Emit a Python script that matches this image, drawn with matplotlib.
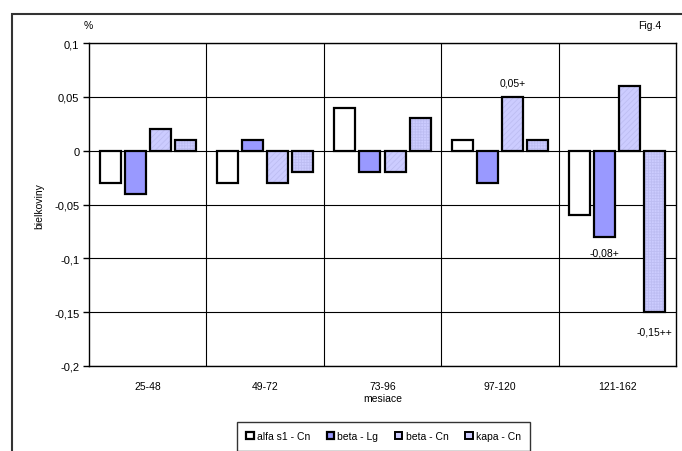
import numpy as np
import matplotlib
matplotlib.use('Agg')
import matplotlib.pyplot as plt
from matplotlib.patches import Rectangle

plt.rcParams['font.family'] = ['Liberation Sans', 'DejaVu Sans']
plt.rcParams['hatch.linewidth'] = 0.6

groups = ['25-48', '49-72', '73-96', '97-120', '121-162']
series = ['alfa s1 - Cn', 'beta - Lg', 'beta - Cn', 'kapa - Cn']
alfa_s1 = [-0.03, -0.03, 0.04, 0.01, -0.06]
beta_lg = [-0.04, 0.01, -0.02, -0.03, -0.08]
beta_cn = [0.02, -0.03, -0.02, 0.05, 0.06]
kapa_cn = [0.01, -0.02, 0.03, 0.01, -0.15]
yticks = [0.1, 0.05, 0, -0.05, -0.1, -0.15, -0.2]
ytick_labels = ['0,1', '0,05', '0', '-0,05', '-0,1', '-0,15', '-0,2']

fills = ['white', '#9999ff', '#ccccff', '#ccccff']
hatches = [None, None, '//////', '++++++']

fig = plt.figure(figsize=(6.82, 4.52), dpi=100)
ax = fig.add_axes([89 / 682, 1 - 367 / 452, 587 / 682, 323 / 452])

x = np.arange(len(groups))
offs = [-0.32, -0.107, 0.107, 0.32]
width = 0.178
for vals, name, fc, h, off in zip([alfa_s1, beta_lg, beta_cn, kapa_cn], series, fills, hatches, offs):
    if h:
        ax.bar(x + off, vals, width, color=fc, edgecolor='#bdbdf2', hatch=h, linewidth=0, zorder=3)
        ax.bar(x + off, vals, width, fill=False, edgecolor='black', linewidth=1.6, zorder=4)
        ax.bar([0], [0], 0, color=fc, edgecolor='black', linewidth=1.4, label=name)
    else:
        ax.bar(x + off, vals, width, color=fc, edgecolor='black', linewidth=1.6, zorder=4, label=name)

# significance notes
ax.text(3 + offs[2], beta_cn[3] + 0.009, '0,05+', ha='center', va='bottom', fontsize=7.5)
ax.text(4 + offs[1], beta_lg[4] - 0.0145, '-0,08+', ha='center', va='center', fontsize=7.5)
ax.text(4 + offs[3], kapa_cn[4] - 0.018, '-0,15++', ha='center', va='center', fontsize=7.5)

ax.set_xlim(-0.5, len(groups) - 0.5)
ax.set_ylim(-0.2, 0.1)
ax.set_yticks(yticks)
ax.set_yticklabels(ytick_labels, fontsize=8)
ax.set_xticks(x)
ax.set_xticklabels(groups, fontsize=7.5)
ax.tick_params(axis='x', length=0, pad=11)
ax.tick_params(axis='y', length=4, width=1, direction='out', pad=3)
for b in np.arange(0.5, len(groups) - 0.5):
    ax.axvline(b, color='black', linewidth=0.8, zorder=1)
for t in yticks:
    ax.axhline(t, color='black', linewidth=0.8, zorder=1)
for s in ax.spines.values():
    s.set_linewidth(1.0)

ax.set_xlabel('mesiace', fontsize=7.5, labelpad=1)
fig.text(39 / 682, 1 - 206 / 452, 'bielkoviny', rotation=90, ha='center', va='center', fontsize=7.5)
fig.text(88 / 682, 1 - 26 / 452, '%', ha='center', va='center', fontsize=7.5)
fig.text(650 / 682, 1 - 26 / 452, 'Fig.4', ha='center', va='center', fontsize=7.5)

# outer chart frame
fig.patches.append(Rectangle((12 / 682, -0.1), 1.0, 1 - 15 / 452 + 0.1, transform=fig.transFigure,
                             fill=False, edgecolor='#333333', linewidth=1.5))

leg = fig.legend(loc='upper left', bbox_to_anchor=(237 / 682, 1 - 423 / 452 - 0.05, 293 / 682, 0.05),
                 mode='expand', ncol=4, fontsize=7.5,
                 frameon=True, fancybox=False, edgecolor='black', handlelength=0.7, handleheight=0.7,
                 handletextpad=0.3, columnspacing=0.6, borderpad=0.9, borderaxespad=0)
leg.get_frame().set_linewidth(1.0)

fig.savefig('out.png', dpi=100)
